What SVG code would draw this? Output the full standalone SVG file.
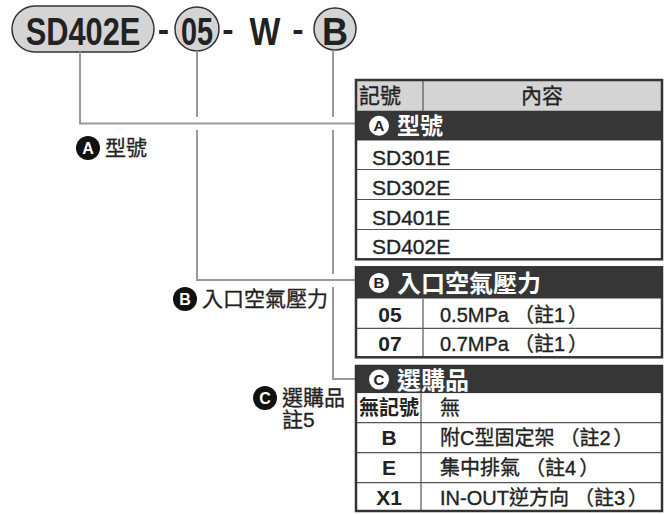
<svg xmlns="http://www.w3.org/2000/svg" width="667" height="514" viewBox="0 0 667 514">
<style>
.t{font-family:"Liberation Sans","Noto Sans CJK TC",sans-serif;fill:#222}
.big{font-size:38px;font-weight:bold;fill:#222;text-anchor:middle}
.dash{font-size:34px;font-weight:bold;fill:#222}
.pill{fill:#d4d4d4;stroke:#333;stroke-width:1.5}
.con{fill:none;stroke:#999;stroke-width:2}
.frame{fill:none;stroke:#333;stroke-width:2.5}
.sep{stroke:#555;stroke-width:1.2}
.dark{fill:#363636}
.head{fill:#d4d4d4}
.wh{fill:#fff}
.lbl{font-size:20px;stroke:#222;stroke-width:0.3}
.row{font-size:20px;stroke:#222;stroke-width:0.35}
.rowb{font-size:20px;font-weight:bold}
.hd{font-size:23px;font-weight:bold;fill:#fff}
.cw{fill:#fff}
.cb{fill:#111}
.ci{font-size:16px;font-weight:bold;text-anchor:middle}
.cj{font-family:"Noto Sans CJK TC",sans-serif}
</style>

<g id="title">
  <rect class="pill" x="12" y="6" width="142" height="46" rx="23"/>
  <text class="t big" transform="translate(83,44.5) scale(0.81,1)">SD402E</text>
  <text class="t dash" x="163.5" y="40.5" text-anchor="middle">-</text>
  <circle class="pill" cx="197" cy="29" r="22"/>
  <text class="t big" transform="translate(197,44.5) scale(0.76,1)">05</text>
  <text class="t dash" x="228" y="40.5" text-anchor="middle">-</text>
  <text class="t big" transform="translate(265,44.5) scale(0.86,1)">W</text>
  <text class="t dash" x="298" y="40.5" text-anchor="middle">-</text>
  <circle class="pill" cx="335" cy="29" r="21"/>
  <text class="t big" transform="translate(335,44.5) scale(0.95,1)">B</text>
</g>

<g id="connectors">
  <path class="con" d="M80,52 V123.5 H356"/>
  <path class="con" d="M197,51 V117 M197,130 V280 H356"/>
  <path class="con" d="M333,50 V117 M333,130 V274 M333,287 V379 H356"/>
</g>

<g id="label-a">
  <circle class="cb" cx="88" cy="148" r="12"/>
  <text class="t ci cw" x="88" y="153.5">A</text>
  <text class="t lbl" x="105" y="155" style="font-size:21px">型號</text>
</g>
<g id="label-b">
  <circle class="cb" cx="185" cy="299" r="12"/>
  <text class="t ci cw" x="185" y="304.5">B</text>
  <text class="t lbl" x="202" y="306" style="font-size:21px">入口空氣壓力</text>
</g>
<g id="label-c">
  <circle class="cb" cx="265" cy="398" r="12"/>
  <text class="t ci cw" x="265" y="403.5">C</text>
  <text class="t lbl" x="282" y="405" style="font-size:21px">選購品</text>
  <text class="t lbl" x="282" y="427" style="font-size:21px">註5</text>
</g>

<g id="table-a">
  <rect class="head" x="356" y="80" width="306" height="30.7"/>
  <rect class="dark" x="356" y="110.7" width="306" height="30"/>
  <rect class="wh" x="356" y="140.7" width="306" height="118.6"/>
  <line class="sep" x1="423" y1="80" x2="423" y2="110.7"/>
  <line class="sep" x1="356" y1="169.5" x2="662" y2="169.5"/>
  <line class="sep" x1="356" y1="199.5" x2="662" y2="199.5"/>
  <line class="sep" x1="356" y1="229.5" x2="662" y2="229.5"/>
  <rect class="frame" x="356" y="80" width="306" height="179.3"/>
  <text class="t row" x="359" y="103" style="font-size:21px">記號</text>
  <text class="t row" x="542" y="103" text-anchor="middle" style="font-size:21px">內容</text>
  <circle class="cw" cx="379" cy="125.7" r="10"/>
  <text class="t ci" x="379" y="131" fill="#333" style="font-size:15px">A</text>
  <text class="t hd" x="397" y="134">型號</text>
  <text class="t row" x="372" y="165" style="font-size:21px">SD301E</text>
  <text class="t row" x="372" y="194.5" style="font-size:21px">SD302E</text>
  <text class="t row" x="372" y="224.5" style="font-size:21px">SD401E</text>
  <text class="t row" x="372" y="254.3" style="font-size:21px">SD402E</text>
</g>

<g id="table-b">
  <rect class="dark" x="356" y="267.3" width="306" height="31.4"/>
  <rect class="wh" x="356" y="298.7" width="306" height="58.6"/>
  <line class="sep" x1="356" y1="328.3" x2="662" y2="328.3"/>
  <line class="sep" x1="423" y1="298.7" x2="423" y2="357.3"/>
  <rect class="frame" x="356" y="267.3" width="306" height="90"/>
  <circle class="cw" cx="379" cy="283" r="10"/>
  <text class="t ci" x="379" y="288.3" fill="#333" style="font-size:15px">B</text>
  <text class="t hd" x="397" y="292" style="font-size:24px">入口空氣壓力</text>
  <text class="t rowb" x="390" y="321.7" text-anchor="middle" style="font-size:21px">05</text>
  <text class="t row" x="440" y="321.7">0.5MPa<tspan class="cj" dx="5">（註</tspan>1<tspan class="cj" dx="3">）</tspan></text>
  <text class="t rowb" x="390" y="350.7" text-anchor="middle" style="font-size:21px">07</text>
  <text class="t row" x="440" y="350.7">0.7MPa<tspan class="cj" dx="5">（註</tspan>1<tspan class="cj" dx="3">）</tspan></text>
</g>

<g id="table-c">
  <rect class="dark" x="356" y="366" width="306" height="27.3"/>
  <rect class="wh" x="356" y="393.3" width="306" height="117.7"/>
  <line class="sep" x1="356" y1="422.7" x2="662" y2="422.7"/>
  <line class="sep" x1="356" y1="452.7" x2="662" y2="452.7"/>
  <line class="sep" x1="356" y1="482.7" x2="662" y2="482.7"/>
  <line class="sep" x1="421" y1="393.3" x2="421" y2="511"/>
  <rect class="frame" x="356" y="366" width="306" height="145"/>
  <circle class="cw" cx="379" cy="379.6" r="10"/>
  <text class="t ci" x="379" y="385" fill="#333" style="font-size:15px">C</text>
  <text class="t hd" x="397" y="388.5" style="font-size:24px">選購品</text>
  <text class="t rowb" x="389" y="415" text-anchor="middle">無記號</text>
  <text class="t row" x="440" y="415">無</text>
  <text class="t rowb" x="389" y="445" text-anchor="middle" style="font-size:21px">B</text>
  <text class="t row" x="440" y="445">附C型固定架<tspan class="cj" dx="5">（註</tspan>2<tspan class="cj" dx="3">）</tspan></text>
  <text class="t rowb" x="389" y="475" text-anchor="middle" style="font-size:21px">E</text>
  <text class="t row" x="440" y="475">集中排氣<tspan class="cj" dx="5">（註</tspan>4<tspan class="cj" dx="3">）</tspan></text>
  <text class="t rowb" x="389" y="505" text-anchor="middle" style="font-size:21px">X1</text>
  <text class="t row" x="440" y="505">IN-OUT逆方向<tspan class="cj" dx="5">（註</tspan>3<tspan class="cj" dx="3">）</tspan></text>
</g>
</svg>
